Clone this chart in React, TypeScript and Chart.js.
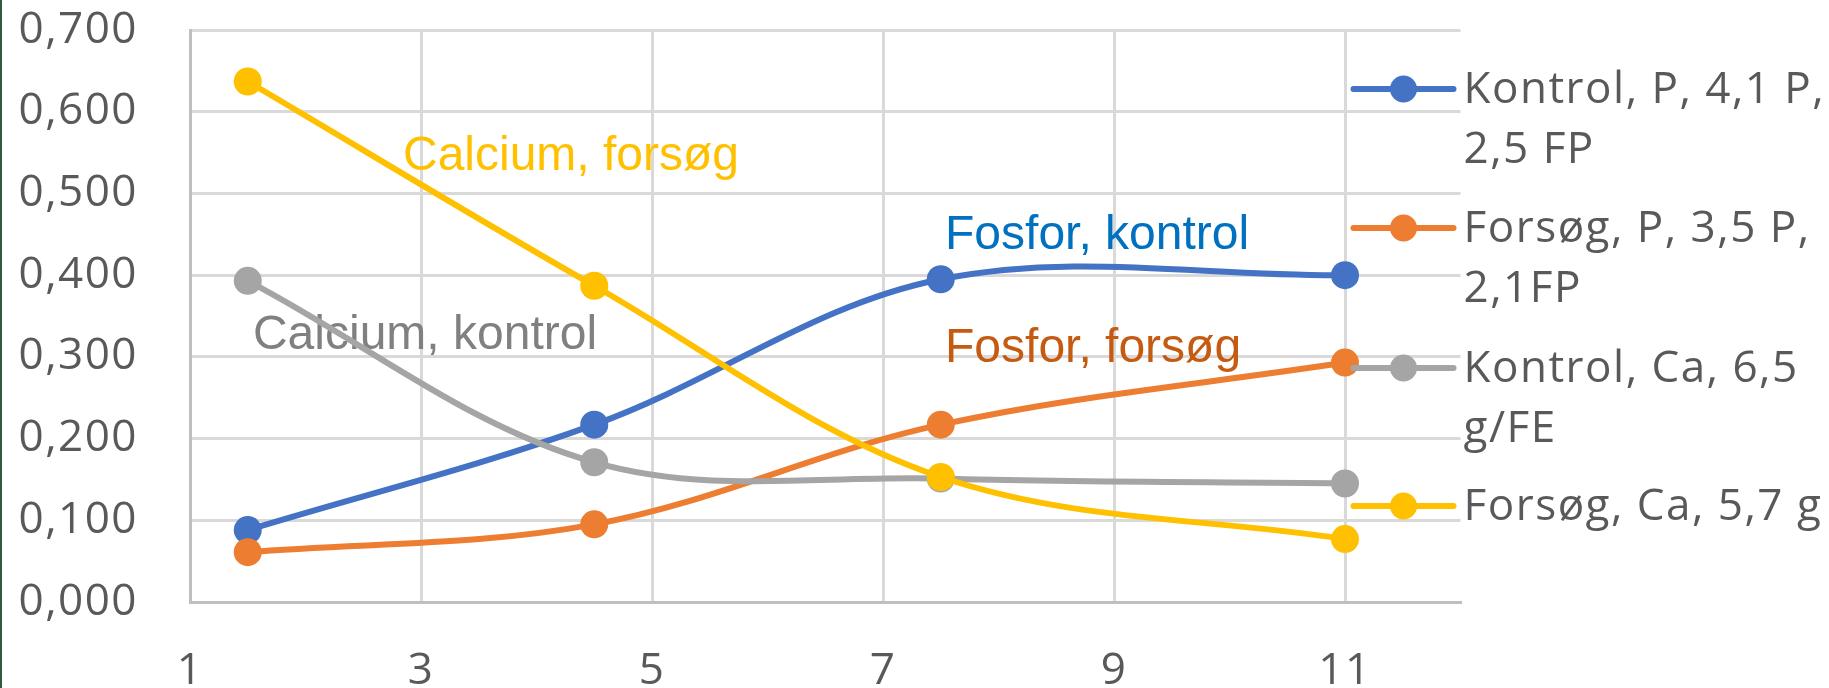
import React, { useEffect, useRef } from "react";
import { Chart, registerables } from "chart.js";

Chart.register(...registerables);

// ---- data ----
const xValues = [1.5, 4.5, 7.5, 11];
const kontrolP = [0.088, 0.217, 0.395, 0.4];
const forsogP = [0.061, 0.095, 0.217, 0.293];
const kontrolCa = [0.393, 0.171, 0.151, 0.145];
const forsogCa = [0.637, 0.387, 0.153, 0.077];

const seriesNames = [
  "Kontrol, P, 4,1 P, 2,5 FP",
  "Forsøg, P, 3,5 P, 2,1FP",
  "Kontrol, Ca, 6,5 g/FE",
  "Forsøg, Ca, 5,7 g",
];
const legendLines = [
  ["Kontrol, P, 4,1 P,", "2,5 FP"],
  ["Forsøg, P, 3,5 P,", "2,1FP"],
  ["Kontrol, Ca, 6,5", "g/FE"],
  ["Forsøg, Ca, 5,7 g"],
];
const seriesColors = ["#4472C4", "#ED7D31", "#A5A5A5", "#FFC000"];
const seriesValues = [kontrolP, forsogP, kontrolCa, forsogCa];

const xTicks = [1, 3, 5, 7, 9, 11];

const annotationTexts = ["Calcium, forsøg", "Calcium, kontrol", "Fosfor, kontrol", "Fosfor, forsøg"];
const annotationX = [2.844, 1.545, 7.537, 7.537];
const annotationY = [0.529, 0.31, 0.432, 0.294];
const annotationColors = ["#FFC000", "#808080", "#0070C0", "#C55A11"];

const TEXT_GREY = "#595959";

export default function App() {
  const canvasRef = useRef<HTMLCanvasElement | null>(null);

  useEffect(() => {
    const canvas = canvasRef.current;
    if (!canvas) return;

    const spacingPlugin = {
      id: "spacing",
      beforeDraw(chart: any) {
        (chart.ctx as any).letterSpacing = "1.5px";
      },
    };

    const annotationPlugin = {
      id: "annots",
      beforeDatasetsDraw(chart: any) {
        const ctx = chart.ctx;
        const xs = chart.scales.x;
        const ys = chart.scales.y;
        ctx.save();
        (ctx as any).letterSpacing = "0px";
        ctx.font = '48px "Liberation Sans", Arial, sans-serif';
        ctx.textAlign = "left";
        ctx.textBaseline = "alphabetic";
        annotationTexts.forEach((t, i) => {
          ctx.fillStyle = annotationColors[i];
          ctx.fillText(t, xs.getPixelForValue(annotationX[i]), ys.getPixelForValue(annotationY[i]));
        });
        ctx.restore();
      },
    };

    const legendPlugin = {
      id: "customLegend",
      afterDraw(chart: any) {
        const ctx = chart.ctx;
        const right = chart.chartArea.right;
        const lineX0 = right - 107;
        const lineX1 = right - 7;
        const textX = right + 3;
        const rowY = [89, 228, 368, 506];
        ctx.save();
        (ctx as any).letterSpacing = "1.5px";
        ctx.font = '44px "Open Sans", sans-serif';
        ctx.textAlign = "left";
        ctx.textBaseline = "alphabetic";
        legendLines.forEach((lines, i) => {
          const y = rowY[i];
          ctx.strokeStyle = seriesColors[i];
          ctx.lineWidth = 6;
          ctx.lineCap = "round";
          ctx.beginPath();
          ctx.moveTo(lineX0, y);
          ctx.lineTo(lineX1, y);
          ctx.stroke();
          ctx.fillStyle = seriesColors[i];
          ctx.beginPath();
          ctx.arc((lineX0 + lineX1) / 2, y, 13.5, 0, Math.PI * 2);
          ctx.fill();
          ctx.fillStyle = TEXT_GREY;
          lines.forEach((l, j) => {
            ctx.fillText(l, textX, y + 14 + j * 60);
          });
        });
        ctx.restore();
      },
    };

    const chart = new Chart(canvas, {
      type: "line",
      data: {
        datasets: seriesValues.map((vals, i) => ({
          label: seriesNames[i],
          data: vals.map((v, k) => ({ x: xValues[k], y: v })),
          borderColor: seriesColors[i],
          backgroundColor: seriesColors[i],
          borderWidth: 6,
          pointRadius: 14,
          pointHoverRadius: 14,
          pointBorderWidth: 0,
          pointBackgroundColor: seriesColors[i],
          tension: 0.35,
          fill: false,
          order: seriesValues.length - 1 - i,
        })),
      },
      options: {
        animation: false,
        responsive: false,
        maintainAspectRatio: false,
        layout: { padding: { left: 0, top: 30, right: 368.5, bottom: 0 } },
        plugins: {
          legend: { display: false },
          tooltip: { enabled: false },
        },
        scales: {
          x: {
            type: "linear",
            min: 1,
            max: 12,
            afterBuildTicks: (scale: any) => {
              scale.ticks = xTicks.map((v) => ({ value: v }));
            },
            afterFit: (scale: any) => {
              scale.height = 86;
              scale.paddingLeft = 0;
              scale.paddingRight = 0;
            },
            grid: { color: "#D9D9D9", lineWidth: 3, drawTicks: false },
            border: { color: "#BFBFBF", width: 3 },
            ticks: {
              color: TEXT_GREY,
              font: { family: '"Open Sans", sans-serif', size: 44 },
              padding: 43,
              maxRotation: 0,
              autoSkip: false,
            },
          },
          y: {
            type: "linear",
            min: 0,
            max: 0.7,
            afterFit: (scale: any) => {
              scale.width = 190;
              scale.paddingTop = 0;
              scale.paddingBottom = 0;
            },
            grid: { color: "#D9D9D9", lineWidth: 3, drawTicks: false },
            border: { color: "#BFBFBF", width: 3 },
            ticks: {
              stepSize: 0.1,
              color: TEXT_GREY,
              font: { family: '"Open Sans", sans-serif', size: 44 },
              padding: 52,
              callback: (v: any) => Number(v).toFixed(3).replace(".", ","),
            },
          },
        },
      },
      plugins: [spacingPlugin, annotationPlugin, legendPlugin],
    });

    return () => chart.destroy();
  }, []);

  return (
    <div style={{ position: "fixed", left: 0, top: 0, width: 1829, height: 688, background: "#fff" }}>
      <div style={{ position: "absolute", left: 0, top: 0, width: 2, height: 688, background: "#2E5B40" }} />
      <canvas ref={canvasRef} width={1829} height={688} style={{ display: "block" }} />
    </div>
  );
}
